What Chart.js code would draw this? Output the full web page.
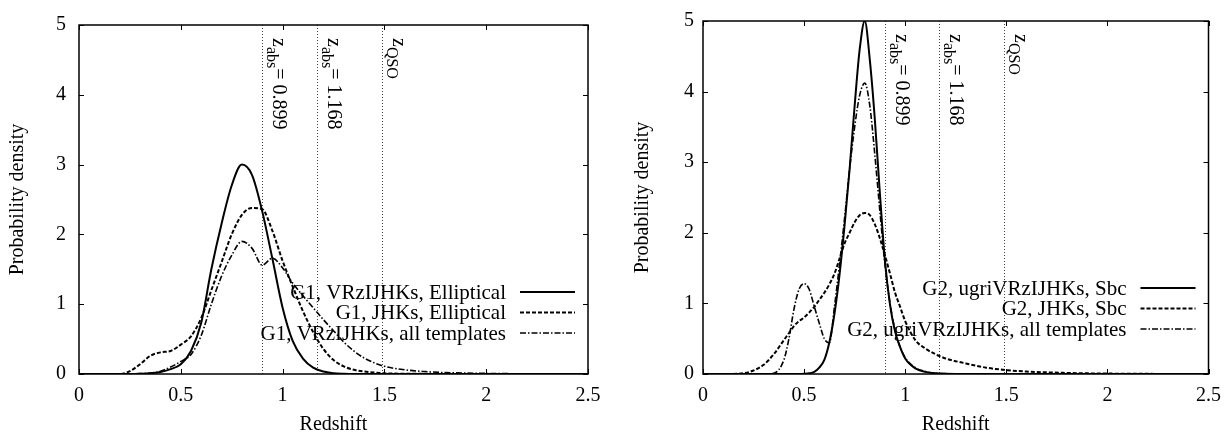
<!DOCTYPE html>
<html>
<head>
<meta charset="utf-8">
<script src="https://cdn.jsdelivr.net/npm/chart.js@4.4.1/dist/chart.umd.min.js"></script>
<style>
  html, body { margin: 0; padding: 0; background: #fff; }
  #wrap { position: relative; width: 1231px; height: 436px; }
  #left { position: absolute; left: 0; top: 0; }
  #right { position: absolute; left: 615px; top: 0; }
</style>
</head>
<body>
<div id="wrap">
  <canvas id="left" width="615" height="436"></canvas>
  <canvas id="right" width="616" height="436"></canvas>
</div>
<script>
// redshift grids (x values)
const zLeft = [0, 0.1, 0.2, 0.25, 0.3, 0.35, 0.4, 0.45, 0.5, 0.55, 0.6, 0.65, 0.7, 0.75, 0.8, 0.85,
  0.9, 0.95, 1.0, 1.05, 1.1, 1.15, 1.2, 1.25, 1.3, 1.35, 1.4, 1.45, 1.5, 1.6, 1.7, 1.8, 2.0, 2.2, 2.5];
const zRight = [0, 0.1, 0.2, 0.25, 0.3, 0.35, 0.4, 0.425, 0.45, 0.475, 0.5, 0.525, 0.55, 0.575, 0.6,
  0.625, 0.65, 0.675, 0.7, 0.725, 0.75, 0.775, 0.8, 0.825, 0.85, 0.875, 0.9, 0.925, 0.95, 0.975, 1.0,
  1.05, 1.1, 1.15, 1.2, 1.3, 1.4, 1.5, 1.6, 1.8, 2.0, 2.2, 2.5];

// G1 probability densities
const g1Elliptical = [0, 0, 0, 0, 0.003, 0.01, 0.03, 0.07, 0.14, 0.33, 0.73, 1.5, 2.15, 2.7, 3.0, 2.85,
  2.33, 1.65, 0.95, 0.47, 0.22, 0.09, 0.035, 0.012, 0.004, 0, 0, 0, 0, 0, 0, 0, 0, 0, 0];
const g1JhkElliptical = [0, 0, 0, 0.04, 0.14, 0.26, 0.31, 0.33, 0.42, 0.54, 0.8, 1.2, 1.6, 2.0, 2.28, 2.38,
  2.36, 2.05, 1.62, 1.25, 0.9, 0.6, 0.36, 0.2, 0.11, 0.06, 0.035, 0.02, 0.01, 0.004, 0.002, 0, 0, 0, 0];
const g1AllTemplates = [0, 0, 0, 0, 0.005, 0.015, 0.04, 0.1, 0.18, 0.28, 0.55, 1.0, 1.4, 1.7, 1.9, 1.8,
  1.56, 1.66, 1.52, 1.3, 1.12, 0.95, 0.78, 0.62, 0.46, 0.33, 0.23, 0.16, 0.11, 0.06, 0.035, 0.02, 0.008, 0.003, 0];

// G2 probability densities
const g2Sbc = [0, 0, 0, 0, 0, 0, 0, 0, 0, 0, 0.003, 0.01, 0.03, 0.09, 0.2, 0.45, 0.85, 1.4, 2.1, 2.9,
  3.8, 4.6, 5.0, 4.45, 3.6, 2.55, 1.6, 0.98, 0.6, 0.38, 0.22, 0.08, 0.03, 0.01, 0.004, 0, 0, 0, 0, 0, 0, 0, 0];
const g2JhkSbc = [0, 0, 0.01, 0.05, 0.13, 0.28, 0.48, 0.58, 0.68, 0.75, 0.8, 0.87, 0.95, 1.05, 1.15,
  1.27, 1.42, 1.63, 1.85, 2.0, 2.15, 2.25, 2.28, 2.25, 2.12, 1.92, 1.68, 1.42, 1.15, 0.95, 0.75,
  0.48, 0.36, 0.28, 0.22, 0.15, 0.09, 0.055, 0.035, 0.015, 0.006, 0.002, 0];
const g2AllTemplates = [0, 0, 0, 0, 0, 0.01, 0.2, 0.5, 0.92, 1.2, 1.28, 1.2, 0.96, 0.72, 0.5, 0.44,
  0.95, 1.55, 2.2, 2.9, 3.5, 3.95, 4.12, 3.8, 3.1, 2.3, 1.55, 1.0, 0.62, 0.38, 0.23, 0.09, 0.035, 0.012,
  0.005, 0.001, 0, 0, 0, 0, 0, 0, 0];

const leftLabels = ['G1, VRzIJHKs, Elliptical', 'G1, JHKs, Elliptical', 'G1, VRzIJHKs, all templates'];
const rightLabels = ['G2, ugriVRzIJHKs, Sbc', 'G2, JHKs, Sbc', 'G2, ugriVRzIJHKs, all templates'];

// marked redshifts
const markZ = [0.899, 1.168, 1.49];
const markSub = ['abs', 'abs', 'QSO'];
const markRest = ['= 0.899', '= 1.168', ''];

const xTicks = [0, 0.5, 1, 1.5, 2, 2.5];
const yTicks = [0, 1, 2, 3, 4, 5];

const FONT = '"Liberation Serif", "Times New Roman", serif';
const styles = [
  { borderWidth: 2, borderDash: [] },
  { borderWidth: 2, borderDash: [4, 2] },
  { borderWidth: 1.6, borderDash: [6, 2, 1.5, 2] }
];

function series(xs, ys) {
  return xs.map((x, i) => ({ x: x, y: ys[i] }));
}

const decor = {
  id: 'decor',
  beforeDatasetsDraw(chart) {
    const { ctx, chartArea: a, scales: { x } } = chart;
    ctx.save();
    markZ.forEach((z, i) => {
      const px = Math.round(x.getPixelForValue(z)) + 0.5;
      ctx.strokeStyle = '#444';
      ctx.lineWidth = 1;
      ctx.setLineDash([1, 2]);
      ctx.beginPath();
      ctx.moveTo(px, a.top);
      ctx.lineTo(px, a.bottom);
      ctx.stroke();
      ctx.setLineDash([]);

      ctx.save();
      ctx.translate(px + 10.5, a.top + 13);
      ctx.rotate(Math.PI / 2);
      ctx.fillStyle = '#000';
      ctx.textBaseline = 'alphabetic';
      ctx.textAlign = 'left';
      ctx.font = '20px ' + FONT;
      ctx.fillText('z', 0, 0);
      let w = ctx.measureText('z').width;
      ctx.font = '16px ' + FONT;
      ctx.fillText(markSub[i], w, 6);
      w += ctx.measureText(markSub[i]).width;
      ctx.font = '20px ' + FONT;
      if (markRest[i]) ctx.fillText(markRest[i], w, 0);
      ctx.restore();
    });
    ctx.restore();
  },
  afterDatasetsDraw(chart) {
    const { ctx, chartArea: a, scales: { x, y } } = chart;
    ctx.save();
    // frame
    ctx.strokeStyle = '#000';
    ctx.lineWidth = 1.5;
    ctx.setLineDash([]);
    ctx.strokeRect(a.left, a.top, a.right - a.left, a.bottom - a.top);
    // inward ticks on all sides
    ctx.lineWidth = 1;
    ctx.beginPath();
    xTicks.forEach(v => {
      const px = Math.round(x.getPixelForValue(v)) + 0.5;
      ctx.moveTo(px, a.bottom); ctx.lineTo(px, a.bottom - 5);
      ctx.moveTo(px, a.top); ctx.lineTo(px, a.top + 5);
    });
    yTicks.forEach(v => {
      const py = Math.round(y.getPixelForValue(v)) + 0.5;
      ctx.moveTo(a.left, py); ctx.lineTo(a.left + 5, py);
      ctx.moveTo(a.right, py); ctx.lineTo(a.right - 5, py);
    });
    ctx.stroke();
    // key
    ctx.font = '21px ' + FONT;
    ctx.fillStyle = '#000';
    ctx.textAlign = 'right';
    ctx.textBaseline = 'middle';
    chart.data.datasets.forEach((ds, i) => {
      const ly = a.top + 267 + i * 20.5;
      ctx.fillText(ds.label, a.right - 82, ly + 1);
      ctx.strokeStyle = '#000';
      ctx.lineWidth = ds.borderWidth;
      ctx.setLineDash(ds.borderDash);
      ctx.beginPath();
      ctx.moveTo(a.right - 68, ly);
      ctx.lineTo(a.right - 13, ly);
      ctx.stroke();
    });
    ctx.restore();
  }
};

function makeChart(id, zs, curves, labels, axisWidth, titlePad, tickPad, rightPad) {
  return new Chart(document.getElementById(id), {
    type: 'line',
    data: {
      datasets: curves.map((c, i) => ({
        label: labels[i],
        data: series(zs, c),
        borderColor: '#000',
        borderWidth: styles[i].borderWidth,
        borderDash: styles[i].borderDash,
        pointRadius: 0,
        fill: false,
        cubicInterpolationMode: 'monotone'
      }))
    },
    options: {
      responsive: false,
      animation: false,
      layout: { padding: { left: 0, top: 20, right: rightPad, bottom: 0 } },
      plugins: { legend: { display: false }, tooltip: { enabled: false } },
      scales: {
        x: {
          type: 'linear', min: 0, max: 2.5,
          afterBuildTicks: s => { s.ticks = xTicks.map(v => ({ value: v })); },
          afterFit: s => { s.height = 62; },
          ticks: { color: '#000', font: { family: FONT, size: 20 }, padding: 10, maxRotation: 0,
            callback: v => String(v) },
          grid: { display: false, drawTicks: false },
          border: { display: false },
          title: { display: true, text: 'Redshift', color: '#000',
            font: { family: FONT, size: 20, lineHeight: 1.1 }, padding: { top: 0, bottom: 0 } }
        },
        y: {
          type: 'linear', min: 0, max: 5,
          afterBuildTicks: s => { s.ticks = yTicks.map(v => ({ value: v })); },
          afterFit: s => { s.width = axisWidth; },
          ticks: { color: '#000', font: { family: FONT, size: 20 }, padding: tickPad,
            callback: v => String(v) },
          grid: { display: false, drawTicks: false },
          border: { display: false },
          title: { display: true, text: 'Probability density', color: '#000',
            font: { family: FONT, size: 20, lineHeight: 1.2 }, padding: { top: titlePad, bottom: 0 } }
        }
      }
    },
    plugins: [decor]
  });
}

makeChart('left', zLeft, [g1Elliptical, g1JhkElliptical, g1AllTemplates], leftLabels, 79, 6, 13, 27);
makeChart('right', zRight, [g2Sbc, g2JhkSbc, g2AllTemplates], rightLabels, 88, 16, 9, 19);
</script>
</body>
</html>
